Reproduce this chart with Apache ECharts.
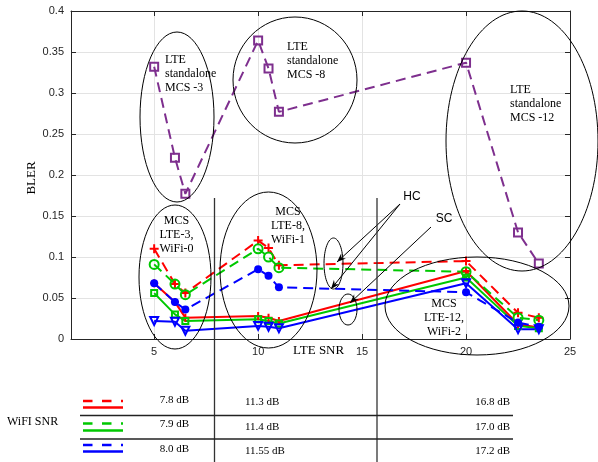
<!DOCTYPE html>
<html>
<head>
<meta charset="utf-8">
<script src="https://cdn.jsdelivr.net/npm/echarts@6/dist/echarts.min.js"></script>
<style>
  html, body { margin: 0; padding: 0; background: #fff; }
  #chart { width: 598px; height: 462px; }
</style>
</head>
<body>
<div id="chart"></div>
<script>
// LTE SNR (dB) at which each configuration was measured
const lteSnr = [5, 6, 6.5, 10, 10.5, 11, 20, 22.5, 23.5];

// BLER for LTE alone
const lteStandalone = [0.332, 0.221, 0.177, 0.364, 0.330, 0.277, 0.337, 0.130, 0.092];

// BLER with WiFi coexistence, hidden-collision (dashed) and sensed-collision (solid)
const hcWifiLow  = [0.110, 0.067, 0.056, 0.120, 0.111, 0.090, 0.095, 0.032, 0.026];
const scWifiLow  = [0.068, 0.045, 0.026, 0.028, 0.026, 0.022, 0.083, 0.018, 0.014];
const hcWifiMid  = [0.091, 0.067, 0.054, 0.110, 0.100, 0.087, 0.082, 0.026, 0.023];
const scWifiMid  = [0.056, 0.030, 0.022, 0.024, 0.022, 0.019, 0.075, 0.016, 0.013];
const hcWifiHigh = [0.068, 0.045, 0.036, 0.085, 0.077, 0.063, 0.057, 0.020, 0.015];
const scWifiHigh = [0.022, 0.021, 0.010, 0.016, 0.015, 0.013, 0.068, 0.012, 0.012];

// Axis tick values
const xTicks = [5, 10, 15, 20, 25];
const yMin = 0, yMax = 0.4, yStep = 0.05;

// WiFi SNR table rows
const wifiSnrRows = [
  ['7.8 dB', '11.3 dB', '16.8 dB'],
  ['7.9 dB', '11.4 dB', '17.0 dB'],
  ['8.0 dB', '11.55 dB', '17.2 dB']
];

const RED = '#ff0000', GREEN = '#00c800', BLUE = '#0000ff', PURPLE = '#7e2f8e';
const AXIS = '#262626';
const SANS = 'Liberation Sans, Arial, sans-serif';
const SERIF = 'Liberation Serif, Times New Roman, serif';
const PLUS = 'path://M5,0L5,10M0,5L10,5';
const DASH = [10, 6];

function pairs(ys) { return lteSnr.map((x, i) => [x, ys[i]]); }

function series(ys, color, dashed, symbol, size, filled, rotate) {
  return {
    type: 'line',
    data: pairs(ys),
    symbol: symbol,
    symbolSize: size,
    symbolRotate: rotate || 0,
    showSymbol: true,
    lineStyle: { color: color, width: 2, type: dashed ? DASH : 'solid' },
    itemStyle: filled
      ? { color: color, borderWidth: 0 }
      : { color: 'rgba(0,0,0,0)', borderColor: color, borderWidth: 2 },
    emphasis: { disabled: true },
    z: 3
  };
}

const chart = echarts.init(document.getElementById('chart'), null, { renderer: 'canvas' });

const tickCommon = { show: true, inside: true, length: 5, lineStyle: { color: AXIS } };

chart.setOption({
  animation: false,
  backgroundColor: '#fff',
  grid: { left: 71, top: 11, width: 499, height: 328, containLabel: false },
  xAxis: [
    {
      type: 'value', position: 'bottom', min: 1, max: 25,
      axisLine: { show: true, onZero: false, lineStyle: { color: AXIS, width: 1 } },
      axisTick: Object.assign({ customValues: xTicks }, tickCommon),
      axisLabel: { customValues: xTicks, color: AXIS, fontFamily: SANS, fontSize: 11, margin: 7 },
      splitLine: { show: true, lineStyle: { color: '#e3e3e3', width: 1 } }
    },
    {
      type: 'value', position: 'top', min: 1, max: 25,
      axisLine: { show: true, onZero: false, lineStyle: { color: AXIS, width: 1 } },
      axisTick: Object.assign({ customValues: xTicks }, tickCommon),
      axisLabel: { show: false },
      splitLine: { show: false }
    }
  ],
  yAxis: [
    {
      type: 'value', position: 'left', min: yMin, max: yMax, interval: yStep,
      axisLine: { show: true, onZero: false, lineStyle: { color: AXIS, width: 1 } },
      axisTick: tickCommon,
      axisLabel: { color: AXIS, fontFamily: SANS, fontSize: 11, margin: 7 },
      splitLine: { show: true, lineStyle: { color: '#e3e3e3', width: 1 } }
    },
    {
      type: 'value', position: 'right', min: yMin, max: yMax, interval: yStep,
      axisLine: { show: true, onZero: false, lineStyle: { color: AXIS, width: 1 } },
      axisTick: tickCommon,
      axisLabel: { show: false },
      splitLine: { show: false }
    }
  ],
  series: [
    series(lteStandalone, PURPLE, true, 'rect', 8, false),
    series(hcWifiLow, RED, true, PLUS, 9, false),
    series(scWifiLow, RED, false, PLUS, 8, false),
    series(hcWifiMid, GREEN, true, 'circle', 9, false),
    series(scWifiMid, GREEN, false, 'rect', 6, false),
    series(hcWifiHigh, BLUE, true, 'circle', 8, true),
    series(scWifiHigh, BLUE, false, 'triangle', 8, false, 180)
  ]
});

// ---- annotations ----
const g = [];

function ellipse(cx, cy, rx, ry) {
  g.push({ type: 'ellipse', shape: { cx, cy, rx, ry }, silent: true, z: 10,
           style: { fill: null, stroke: '#000', lineWidth: 1 } });
}
function label(text, x, y, opts) {
  opts = opts || {};
  g.push({ type: 'text', x, y, silent: true, z: 11, rotation: opts.rotation || 0,
           style: { text, fill: opts.color || '#000', font: opts.font || ('12px ' + SERIF),
                    align: opts.align || 'left', verticalAlign: opts.valign || 'top',
                    lineHeight: opts.lineHeight || 14 } });
}
function arrow(x1, y1, x2, y2) {
  g.push({ type: 'line', shape: { x1, y1, x2, y2 }, silent: true, z: 10,
           style: { stroke: '#000', lineWidth: 1 } });
  const a = Math.atan2(y2 - y1, x2 - x1);
  const L = 9, W = 3.5, back = 6;
  const ux = Math.cos(a), uy = Math.sin(a), px = -uy, py = ux;
  const pts = [
    [x2, y2],
    [x2 - L * ux + W * px, y2 - L * uy + W * py],
    [x2 - back * ux, y2 - back * uy],
    [x2 - L * ux - W * px, y2 - L * uy - W * py]
  ];
  g.push({ type: 'polygon', shape: { points: pts }, silent: true, z: 10, style: { fill: '#000' } });
}
function hline(x1, x2, y, color, width, dash) {
  g.push({ type: 'line', shape: { x1, y1: y, x2, y2: y }, silent: true, z: 10,
           style: { stroke: color, lineWidth: width, lineDash: dash || null } });
}
function vline(x, y1, y2) {
  g.push({ type: 'line', shape: { x1: x, y1, x2: x, y2 }, silent: true, z: 10,
           style: { stroke: '#333', lineWidth: 1.3 } });
}

// groups of operating points
ellipse(177, 117, 37, 85);
ellipse(295, 80, 62, 63);
ellipse(522, 141, 76, 130);
ellipse(175, 277, 36, 72);
ellipse(268.5, 270, 48.5, 78);
ellipse(333.5, 263.5, 9.5, 25.5);
ellipse(348, 309.5, 9, 15.5);
ellipse(477, 306, 92, 49);

label('LTE\nstandalone\nMCS -3', 165, 53);
label('LTE\nstandalone\nMCS -8', 287, 40);
label('LTE\nstandalone\nMCS -12', 510, 83);
label('MCS\nLTE-3,\nWiFi-0', 176.5, 214, { align: 'center' });
label('MCS\nLTE-8,\nWiFi-1', 288, 205, { align: 'center' });
label('MCS\nLTE-12,\nWiFi-2', 444, 297, { align: 'center' });

label('HC', 412, 197, { font: '12px ' + SANS, align: 'center', valign: 'middle' });
label('SC', 444, 219, { font: '12px ' + SANS, align: 'center', valign: 'middle' });
arrow(400, 204, 337, 262);
arrow(400, 204, 331, 289);
arrow(431, 227, 350, 303);

// axis titles
label('BLER', 32, 178, { font: '13px ' + SERIF, align: 'center', valign: 'middle', rotation: Math.PI / 2 });
label('LTE SNR', 293, 351, { font: '13px ' + SERIF, valign: 'middle' });

// WiFi SNR table
vline(214.5, 198, 462);
vline(377, 198, 462);
hline(80, 513, 415.5, '#222', 1.3);
hline(80, 513, 439, '#222', 1.3);
label('WiFI SNR', 7, 422, { font: '12px ' + SERIF, valign: 'middle' });

const keyColors = [RED, GREEN, BLUE];
const keyY = [[401, 407.5], [423.5, 430.5], [445, 451.5]];
const rowY = [[400, 402.5], [424, 427.5], [449, 451.5]];
wifiSnrRows.forEach((row, i) => {
  hline(83, 123, keyY[i][0], keyColors[i], 2.5, [9.5, 9.5]);
  hline(83, 123, keyY[i][1], keyColors[i], 2.5);
  label(row[0], 189, rowY[i][0], { font: '11px ' + SERIF, align: 'right', valign: 'middle' });
  label(row[1], 245, rowY[i][1], { font: '11px ' + SERIF, valign: 'middle' });
  label(row[2], 510, rowY[i][1], { font: '11px ' + SERIF, align: 'right', valign: 'middle' });
});

chart.setOption({ graphic: { elements: g } });
</script>
</body>
</html>
